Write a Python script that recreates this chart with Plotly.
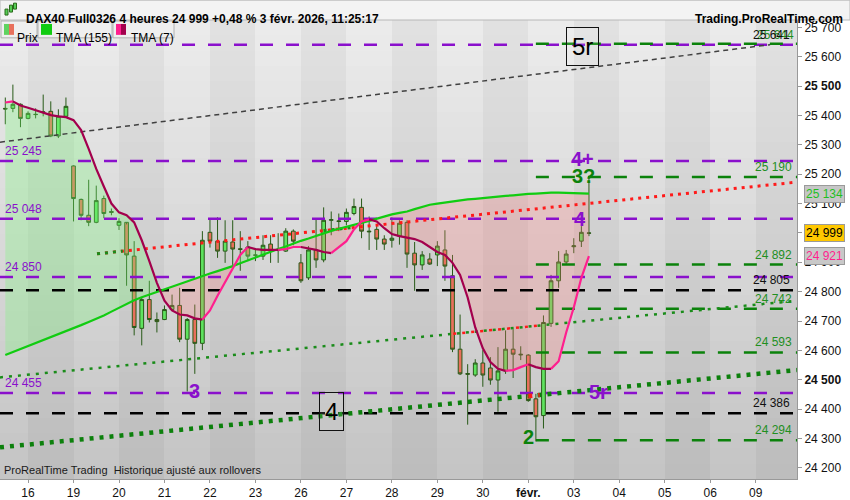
import plotly.graph_objects as go

# --- data: DAX40 4h candles, x = slot index (6 candles per day, slot 0 = ven. 16 janv.)
slots = list(range(-3, 75))

opens = [25424, 25424, 25438, 25390, 25404, 25410, 25414, 25330, 25397,
         25228, 25114, 25060, 25036, 25117, 25073, 25026, 25036, 24921, 24675,
         24773, 24705, 24705, 24739, 24753, 24638, 24705, 24624, 25002, 24972,
         24938, 24969, 24946, 24952, 24925, 24921, 24962, 24942, 24938, 25006,
         24898, 24847, 24942, 24908, 25043, 25041, 25039, 25066, 25087, 25006,
         25012, 24979, 24975, 24989, 25036, 24931, 24891, 24911, 24925, 24942,
         24854, 24604, 24521, 24516, 24557, 24540, 24499, 24530, 24604, 24587,
         24584, 24435, 24378, 24692, 24837, 24901, 24953, 24972, 25000]
highs = [25461, 25505, 25441, 25414, 25424, 25471, 25448, 25421, 25461,
         25230, 25117, 25181, 25161, 25127, 25083, 25050, 25029, 24972, 24780,
         24837, 24729, 24753, 24790, 24813, 24710, 24756, 25006, 25050, 25053,
         25043, 25043, 25006, 24972, 24948, 24992, 24992, 24999, 25016, 25012,
         24928, 24955, 25050, 25087, 25073, 25066, 25083, 25117, 25117, 25056,
         25026, 24992, 25053, 25043, 25043, 24969, 24938, 24931, 24972, 25009,
         24925, 24722, 24553, 24570, 24601, 24577, 24611, 24668, 24672, 24614,
         24587, 24452, 24719, 24857, 24938, 24942, 24982, 25023, 25191]
lows = [25370, 25411, 25360, 25387, 25390, 25397, 25326, 25323, 25397,
        25039, 25043, 25023, 25033, 25050, 25060, 25010, 24820, 24651, 24617,
        24695, 24661, 24703, 24739, 24628, 24460, 24520, 24601, 24950, 24915,
        24898, 24891, 24871, 24904, 24904, 24908, 24898, 24898, 24935, 24958,
        24830, 24840, 24881, 24900, 24992, 25006, 25026, 25060, 24982, 24942,
        24942, 24942, 24950, 24960, 24881, 24803, 24874, 24891, 24887, 24837,
        24594, 24516, 24347, 24510, 24476, 24483, 24391, 24520, 24506, 24567,
        24425, 24290, 24334, 24680, 24813, 24894, 24931, 24952, 24989]
closes = [25422, 25438, 25390, 25407, 25403, 25412, 25330, 25397, 25431,
          25117, 25060, 25036, 25110, 25066, 25070, 25039, 24925, 24678, 24773,
          24705, 24698, 24739, 24753, 24638, 24705, 24624, 24975, 24972, 24938,
          24972, 24945, 24944, 24921, 24924, 24958, 24938, 24940, 25006, 24972,
          24837, 24942, 24908, 25043, 25045, 25039, 25070, 25090, 25006, 25004,
          24979, 24962, 24982, 25033, 24928, 24891, 24925, 24894, 24955, 24887,
          24604, 24520, 24519, 24557, 24516, 24499, 24530, 24604, 24587, 24585,
          24429, 24374, 24695, 24837, 24901, 24928, 24956, 25002, 24999]

tma155 = [24584, 24594, 24605, 24615, 24625, 24635, 24646, 24656, 24666, 24676,
          24686, 24697, 24707, 24719, 24732, 24745, 24758, 24771, 24781, 24790,
          24800, 24810, 24819, 24827, 24836, 24845, 24853, 24862, 24870, 24878,
          24887, 24897, 24907, 24917, 24926, 24936, 24945, 24954, 24964, 24973,
          24981, 24990, 24999, 25007, 25014, 25020, 25027, 25034, 25041, 25049,
          25057, 25063, 25068, 25073, 25081, 25089, 25096, 25100, 25104, 25108,
          25111, 25114, 25116, 25119, 25121, 25123, 25126, 25128, 25131, 25133,
          25134, 25136, 25137, 25137, 25136, 25135, 25135, 25134]
tma7 = [25444, 25448, 25434, 25426, 25417, 25409, 25401, 25397, 25394, 25384,
        25350, 25286, 25218, 25158, 25100, 25070, 25060, 25036, 24975, 24904,
        24830, 24769, 24736, 24722, 24719, 24709, 24705, 24736, 24786, 24834,
        24881, 24925, 24952, 24945, 24942, 24942, 24942, 24945, 24952, 24952,
        24948, 24942, 24935, 24931, 24952, 24972, 25012, 25039, 25046, 25039,
        25016, 24996, 24989, 24985, 24979, 24969, 24952, 24935, 24925, 24898,
        24857, 24780, 24678, 24607, 24560, 24537, 24530, 24533, 24543, 24553,
        24543, 24537, 24537, 24563, 24661, 24746, 24847, 24921]

day_labels = ['16', '19', '20', '21', '22', '23', '26', '27', '28', '29', '30',
              '<b>févr.</b>', '03', '04', '05', '06', '09']
day_slots = [0, 6, 12, 18, 24, 30, 36, 42, 48, 54, 60, 66, 72, 78, 84, 90, 96]

purple_levels = [25641, 25245, 25048, 24850, 24455]
green_levels = [25644, 25190, 24892, 24742, 24593, 24294]
black_levels = [24805, 24386]

# trend lines: start/end (slot, price) and colour changes (slot ranges)
trend_gray = ([-3.7, 97.9], [25309, 25641])
trend_red = ([9.1, 101.45], [24929, 25173])
trend_red_green = [(9.1, 12.5), (39, 42.8)]
trend_fine = ([-3.7, 101.45], [24508, 24769])
trend_fine_red = [(56.1, 67.9)]
trend_thick = ([-3.7, 101.45], [24270, 24533])
trend_thick_red = [(66, 67.5)]

assert len(opens) == len(highs) == len(lows) == len(closes) == len(slots)
assert len(tma155) == len(slots) == len(tma7)

X0, X1 = -3.7, 101.45
Y0, Y1 = 24162, 25725
PURPLE = '#8a10cc'
GREEN = '#0b820b'
FONT = 'Liberation Sans'


def xp(px):
    return px / 797.0


def yp(py):
    return (483.0 - py) / 463.0


def fmt(v):
    return f'{v:,}'.replace(',', ' ')


fig = go.Figure()

# background: alternating day stripes with vertical gradient
col_edges = [X0] + day_slots + [X1]
nrows = 30
row_edges = [Y0 + (Y1 - Y0) * r / nrows for r in range(nrows + 1)]
z = []
for r in range(nrows):
    t = (r + 0.5) / nrows
    row = []
    for j in range(len(col_edges) - 1):
        row.append(188 + 38 * t if j % 2 == 1 else 196 + 40 * t)
    z.append(row)
fig.add_trace(go.Heatmap(x=col_edges, y=row_edges, z=z, zmin=0, zmax=255,
                         colorscale=[[0, 'rgb(0,0,0)'], [1, 'rgb(255,255,255)']],
                         showscale=False, hoverinfo='skip'))

# fill between TMA(7) and TMA(155)
polys = []
cx, ca, cb = [slots[0]], [tma7[0]], [tma155[0]]
sign = tma7[0] >= tma155[0]
for i in range(1, len(slots)):
    s = tma7[i] >= tma155[i]
    if s != sign:
        d0 = tma7[i - 1] - tma155[i - 1]
        d1 = tma7[i] - tma155[i]
        t = d0 / (d0 - d1)
        xc = slots[i - 1] + t * (slots[i] - slots[i - 1])
        yc = tma7[i - 1] + t * (tma7[i] - tma7[i - 1])
        cx.append(xc); ca.append(yc); cb.append(yc)
        polys.append((cx, ca, cb, sign))
        cx, ca, cb = [xc], [yc], [yc]
        sign = s
    cx.append(slots[i]); ca.append(tma7[i]); cb.append(tma155[i])
polys.append((cx, ca, cb, sign))
for px_, pa, pb, up in polys:
    fig.add_trace(go.Scatter(x=px_ + px_[::-1], y=pa + pb[::-1], mode='lines',
                             fill='toself', line=dict(width=0),
                             fillcolor='rgba(120,250,120,0.30)' if up else 'rgba(255,120,120,0.25)',
                             hoverinfo='skip'))

# horizontal levels
for lv in purple_levels:
    fig.add_trace(go.Scatter(x=[X0, X1], y=[lv, lv], mode='lines', hoverinfo='skip',
                             line=dict(color=PURPLE, width=2.5, dash='13px,13px')))
for lv in black_levels:
    fig.add_trace(go.Scatter(x=[X0, X1], y=[lv, lv], mode='lines', hoverinfo='skip',
                             line=dict(color='#000000', width=2.5, dash='13px,13px')))
for lv in green_levels:
    fig.add_trace(go.Scatter(x=[67, X1], y=[lv, lv], mode='lines', hoverinfo='skip',
                             line=dict(color=GREEN, width=2.5, dash='13px,13px')))


def trend(line, breaks, base, alt, width, dash):
    (xa, xb), (ya, yb) = line
    def at(x):
        return ya + (yb - ya) * (x - xa) / (xb - xa)
    fig.add_trace(go.Scatter(x=[xa, xb], y=[ya, yb], mode='lines', hoverinfo='skip',
                             line=dict(color=base, width=width, dash=dash)))
    for s0, s1 in breaks:
        fig.add_trace(go.Scatter(x=[s0, s1], y=[at(s0), at(s1)], mode='lines', hoverinfo='skip',
                                 line=dict(color=alt, width=width, dash=dash)))


trend(trend_gray, [], '#404040', '#404040', 1.5, '5px,4px')
trend(trend_red, trend_red_green, '#ff1a1a', '#1a8c1a', 3, '3px,5px')
trend(trend_fine, trend_fine_red, '#1a8c1a', '#ff1a1a', 2.5, '3px,6px')
trend(trend_thick, trend_thick_red, '#0c800c', '#ff1a1a', 4.5, '4px,6px')

# candles
fig.add_trace(go.Candlestick(x=slots, open=opens, high=highs, low=lows, close=closes,
                             increasing=dict(fillcolor='#5fe35f', line=dict(color='#285a18', width=1)),
                             decreasing=dict(fillcolor='#e8705c', line=dict(color='#285a18', width=1)),
                             whiskerwidth=0, hoverinfo='skip', showlegend=False))

# TMA(155)
fig.add_trace(go.Scatter(x=slots, y=tma155, mode='lines', hoverinfo='skip',
                         line=dict(color='#11cc11', width=2.2)))

# TMA(7), coloured by direction
UP, DOWN = '#ff1f8e', '#a3004d'
start = 0
col = UP if tma7[1] >= tma7[0] else DOWN
for i in range(1, len(slots) - 1):
    d = tma7[i + 1] - tma7[i]
    c = col if d == 0 else (UP if d > 0 else DOWN)
    if c != col:
        fig.add_trace(go.Scatter(x=slots[start:i + 1], y=tma7[start:i + 1], mode='lines',
                                 hoverinfo='skip', line=dict(color=col, width=2.2)))
        start, col = i, c
fig.add_trace(go.Scatter(x=slots[start:], y=tma7[start:], mode='lines',
                         hoverinfo='skip', line=dict(color=col, width=2.2)))

ann = []
# level labels
for lv in purple_levels[1:]:
    ann.append(dict(x=xp(3), y=lv, xref='paper', yref='y', text=fmt(lv), showarrow=False,
                    xanchor='left', yanchor='bottom', yshift=1,
                    font=dict(family=FONT, size=12, color=PURPLE)))
for lv in green_levels:
    ann.append(dict(x=xp(794), y=lv, xref='paper', yref='y', text=fmt(lv), showarrow=False,
                    xanchor='right', yanchor='bottom', yshift=1 if lv != 25644 else 0,
                    xshift=0 if lv != 25644 else 2,
                    font=dict(family=FONT, size=12, color='#1f8f1f')))
for lv in black_levels + [trend_gray[1][1]]:
    ann.append(dict(x=xp(792), y=lv, xref='paper', yref='y', text=fmt(lv), showarrow=False,
                    xanchor='right', yanchor='bottom', yshift=1,
                    font=dict(family=FONT, size=12, color='#111111')))

# wave labels
waves = [('3', 21.9, 24462, PURPLE), ('4', 72.8, 25046, PURPLE), ('4+', 73.2, 25252, PURPLE),
         ('3?', 73.3, 25195, GREEN), ('2', 66.0, 24304, GREEN), ('5r', 75.2, 24458, PURPLE)]
for txt, sx, sy, c in waves:
    ann.append(dict(x=sx, y=sy, text='<b>' + txt + '</b>', showarrow=False,
                    font=dict(family=FONT, size=20, color=c)))
for txt, sx, sy in [('4', 40.1, 24391), ('5r', 73.1, 25634)]:
    ann.append(dict(x=sx, y=sy, text=txt, showarrow=False, bordercolor='#111111',
                    borderwidth=1, borderpad=5, bgcolor='rgba(255,255,255,0.12)',
                    font=dict(family=FONT, size=24, color='#000000')))

# right axis value tags
for v, bg, fc in [(25134, '#c6c6c6', '#1fbf1f'), (24999, '#ffc800', '#000000'),
                  (24921, '#c8c8c8', '#ff1f8e')]:
    ann.append(dict(x=xp(804), y=v, xref='paper', yref='y', text=fmt(v), showarrow=False,
                    xanchor='left', bgcolor=bg, bordercolor='#9a9a9a', borderwidth=1,
                    borderpad=1, font=dict(family=FONT, size=12, color=fc)))

# header, legend, footer
ann.append(dict(x=xp(24), y=yp(10), xref='paper', yref='paper', showarrow=False, xanchor='left',
                text='<b>DAX40 Full0326 4 heures 24 999 +0,48 % 3 févr. 2026, 11:25:17</b>',
                font=dict(family=FONT, size=12, color='#000000')))
ann.append(dict(x=xp(845), y=yp(10), xref='paper', yref='paper', showarrow=False, xanchor='right',
                text='<b>Trading.ProRealTime.com</b>', font=dict(family=FONT, size=12, color='#000000')))
for txt, px_ in [('Prix', 15), ('TMA (155)', 54), ('TMA (7)', 129)]:
    ann.append(dict(x=xp(px_), y=yp(29.5), xref='paper', yref='paper', showarrow=False,
                    xanchor='left', text=txt, font=dict(family=FONT, size=12, color='#000000')))
ann.append(dict(x=xp(2), y=yp(482), xref='paper', yref='paper', showarrow=False,
                xanchor='left', yanchor='bottom',
                text='ProRealTime Trading  Historique ajusté aux rollovers',
                font=dict(family=FONT, size=11, color='#1a1a1a')))

shapes = [dict(type='rect', xref='paper', yref='paper', x0=0, x1=xp(850), y0=yp(20), y1=yp(0),
               fillcolor='#f3f3f3', line=dict(color='#b8b8b8', width=1), layer='above')]
for a, b in [(1, 37), (38, 112), (113, 174)]:
    shapes.append(dict(type='rect', xref='paper', yref='paper', x0=xp(a), x1=xp(b),
                       y0=yp(38), y1=yp(21), fillcolor='#efefef',
                       line=dict(color='#b0b0b0', width=1), layer='above'))
for a, b, c in [(4, 9, '#5fd35f'), (9, 14, '#e8705c'), (41, 52, '#11cc11'),
                (116, 121, '#ff1f8e'), (121, 126, '#a3004d')]:
    shapes.append(dict(type='rect', xref='paper', yref='paper', x0=xp(a), x1=xp(b),
                       y0=yp(35), y1=yp(24), fillcolor=c, line=dict(width=0), layer='above'))
# small candle icon
for a, t, b in [(5, 9, 15), (9.5, 5, 12), (13.5, 3, 9)]:
    shapes.append(dict(type='rect', xref='paper', yref='paper', x0=xp(a), x1=xp(a + 3),
                       y0=yp(b), y1=yp(t), fillcolor='#55cc55',
                       line=dict(color='#2a6a1a', width=1), layer='above'))

fig.update_layout(
    width=850, height=500,
    margin=dict(l=0, r=53, t=20, b=17),
    paper_bgcolor='#ffffff', plot_bgcolor='#d8d8d8',
    showlegend=False,
    annotations=ann, shapes=shapes,
    font=dict(family=FONT, size=12, color='#000000'),
    xaxis=dict(range=[X0, X1], tickvals=day_slots, ticktext=day_labels, showgrid=False,
               zeroline=False, ticks='outside', ticklen=3, tickcolor='#999999',
               showline=True, linecolor='#999999', rangeslider=dict(visible=False),
               tickfont=dict(family=FONT, size=12, color='#111111'), fixedrange=True),
    yaxis=dict(range=[Y0, Y1], side='right', showgrid=False, zeroline=False,
               tickvals=list(range(24200, 25800, 100)),
               ticktext=[('<b>%s</b>' % fmt(v)) if v % 1000 == 500 else fmt(v)
                         for v in range(24200, 25800, 100)],
               ticks='outside', ticklen=4, tickcolor='#999999', showline=True,
               linecolor='#999999', tickfont=dict(family=FONT, size=12, color='#111111'),
               fixedrange=True),
)

fig.write_html('out.html', config={'displayModeBar': False},
               post_script="document.body.style.margin='0';document.body.style.overflow='hidden';")
